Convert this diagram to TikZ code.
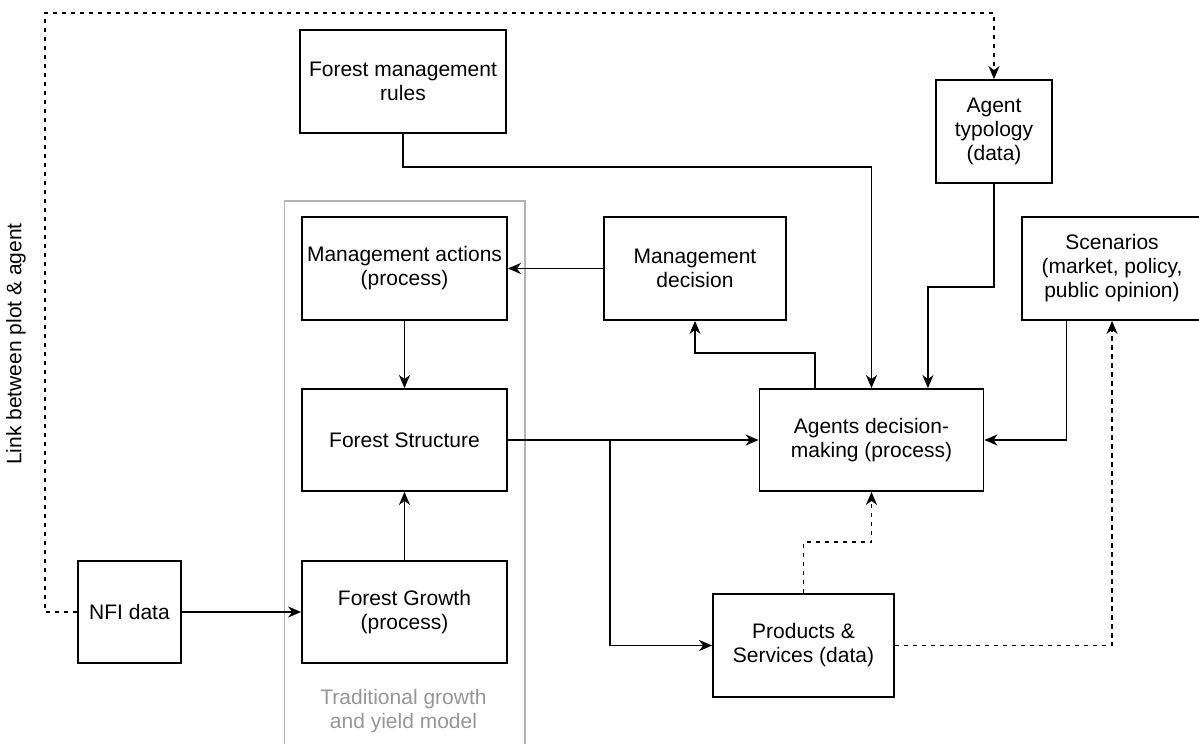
\documentclass[tikz,border=0pt]{standalone}
\usepackage{fontspec}
\setmainfont{Liberation Sans}
\usetikzlibrary{arrows.meta,calc}
\definecolor{grayline}{RGB}{180,180,180}
\definecolor{graytext}{RGB}{150,150,150}
\begin{document}
\begin{tikzpicture}[x=1pt,y=-1pt,
  box/.style={draw=black, line width=1.8pt, fill=white, inner sep=0pt, align=center,
    font=\fontsize{21}{24}\selectfont},
  conn/.style={line width=1.8pt, draw=black},
  arr/.style={conn, -{Stealth[length=13pt,width=11pt,inset=4pt]}},
  dsh/.style={dash pattern=on 4.5pt off 4.5pt}]
\useasboundingbox (0,0) rectangle (1199,744);
\clip (0,0) rectangle (1199,744);
% gray frame
\draw[grayline, line width=1.8pt] (284.5,201) rectangle (524.7,760);
\node[text=graytext, align=center, font=\fontsize{21}{24}\selectfont] (tgy) at (403.5,711) {Traditional growth\\and yield model};
% boxes
\node[box, minimum width=206pt, minimum height=103pt] (FMR) at (403,81.5) {Forest management\\rules};
\node[box, minimum width=116pt, minimum height=103pt] (AT) at (994,131.5) {Agent\\typology\\(data)};
\node[box, minimum width=205pt, minimum height=103pt] (MA) at (404.5,268.5) {Management actions\\(process)};
\node[box, minimum width=182pt, minimum height=103pt] (MD) at (695,268.5) {Management\\decision};
\node[box, minimum width=180pt, minimum height=103pt] (SC) at (1112,268.5) {Scenarios\\(market, policy,\\public opinion)};
\node[box, minimum width=205pt, minimum height=102pt] (FS) at (404.5,440) {Forest Structure};
\node[box, minimum width=224pt, minimum height=102pt] (ADM) at (871.5,440) {Agents decision-\\making (process)};
\node[box, minimum width=103pt, minimum height=102pt] (NFI) at (129.5,612) {NFI data};
\node[box, minimum width=205pt, minimum height=102pt] (FG) at (404.5,612) {Forest Growth\\(process)};
\node[box, minimum width=181pt, minimum height=103pt] (PS) at (803.5,645.5) {Products \&\\Services (data)};
% side label
\node[rotate=90, font=\fontsize{21}{24}\selectfont] (lbl) at (16,344) {Link between plot \& agent};
% helper coordinates
\coordinate (lk) at (45,13);
\coordinate (atin) at ($(ADM.north)!0.5!(ADM.north east)$);
\coordinate (admout) at ($(ADM.north)!0.5!(ADM.north west)$);
\coordinate (scout) at ($(SC.south)!0.5!(SC.south west)$);
\coordinate (J) at (610,440);
% connectors
\draw[arr, dsh] (NFI.west) -| (lk) -| (AT.north);
\draw[arr] (NFI.east) -- (FG.west);
\draw[arr] (FG.north) -- (FS.south);
\draw[arr] (MA.south) -- (FS.north);
\draw[arr] (MD.west) -- (MA.east |- MD.west);
\draw[arr] (FMR.south) -- ++(0,33) -| (ADM.north);
\draw[arr] (AT.south) -- ++(0,103) -| (atin);
\draw[arr] (admout) -- ++(0,-35) -| (MD.south);
\draw[arr] (scout) |- (ADM.east);
\draw[arr] (FS.east) -- (ADM.west);
\draw[arr] (J) |- (PS.west);
\draw[arr, dsh] (PS.north) -- ++(0,-51) -| (ADM.south);
\draw[arr, dsh] (PS.east) -| (SC.south);
\end{tikzpicture}
\end{document}
